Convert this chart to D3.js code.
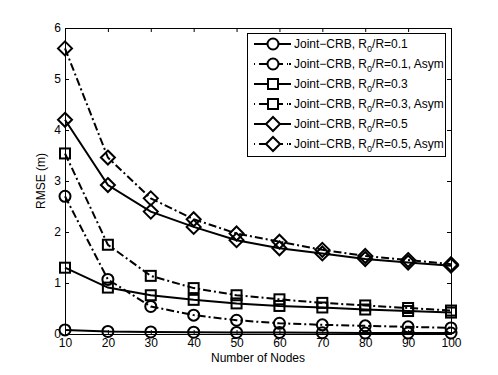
<!doctype html>
<html>
<head>
<script src="https://cdn.jsdelivr.net/npm/d3@7"></script>
<style>
body { margin: 0; background: #fff; }
text { font-family: "Liberation Sans", Arial, sans-serif; font-size: 12px; }
</style>
</head>
<body>
<div id="chart"></div>
<script>
var nodes = [10, 20, 30, 40, 50, 60, 70, 80, 90, 100];
var crb01 = [0.08, 0.05, 0.04, 0.035, 0.03, 0.03, 0.025, 0.02, 0.02, 0.02];
var crb01Asym = [2.7, 1.07, 0.54, 0.37, 0.27, 0.21, 0.18, 0.16, 0.14, 0.12];
var crb03 = [1.3, 0.91, 0.76, 0.67, 0.6, 0.55, 0.52, 0.48, 0.45, 0.42];
var crb03Asym = [3.54, 1.75, 1.14, 0.9, 0.76, 0.68, 0.61, 0.56, 0.51, 0.46];
var crb05 = [4.2, 2.92, 2.4, 2.1, 1.84, 1.68, 1.58, 1.47, 1.4, 1.34];
var crb05Asym = [5.6, 3.46, 2.66, 2.25, 1.97, 1.81, 1.65, 1.53, 1.45, 1.37];
var yTicks = [0, 1, 2, 3, 4, 5, 6];

var series = [
  {name: "0.1", asym: false, marker: "circle", values: crb01},
  {name: "0.1", asym: true, marker: "circle", values: crb01Asym},
  {name: "0.3", asym: false, marker: "square", values: crb03},
  {name: "0.3", asym: true, marker: "square", values: crb03Asym},
  {name: "0.5", asym: false, marker: "diamond", values: crb05},
  {name: "0.5", asym: true, marker: "diamond", values: crb05Asym}
];

var W = 498, H = 375;
var pL = 65, pR = 451, pT = 28, pB = 334;

var svg = d3.select("#chart").append("svg").attr("width", W).attr("height", H);

var x = d3.scaleLinear().domain([10, 100]).range([pL, pR]);
var y = d3.scaleLinear().domain([0, 6]).range([pB, pT]);

// axes box
var ax = svg.append("g");
ax.append("g").attr("transform", "translate(0," + pB + ")")
  .call(d3.axisBottom(x).tickValues(nodes).tickSize(-4).tickPadding(4).tickFormat(d3.format("d")));
ax.append("g").attr("transform", "translate(0," + pT + ")")
  .call(d3.axisTop(x).tickValues(nodes).tickSize(-4).tickFormat(""));
ax.append("g").attr("transform", "translate(" + pL + ",0)")
  .call(d3.axisLeft(y).tickValues(yTicks).tickSize(-4).tickPadding(4).tickFormat(d3.format("d")));
ax.append("g").attr("transform", "translate(" + pR + ",0)")
  .call(d3.axisRight(y).tickValues(yTicks).tickSize(-4).tickFormat(""));
ax.selectAll(".domain").attr("stroke", "#000");
ax.selectAll(".tick line").attr("stroke", "#000");
ax.selectAll(".tick text").attr("fill", "#000").style("font-size", "12px")
  .style("font-family", "Liberation Sans, Arial, sans-serif");

svg.append("text").attr("x", (pL + pR) / 2).attr("y", 362)
  .attr("text-anchor", "middle").text("Number of Nodes");
svg.append("text").attr("transform", "translate(45," + ((pT + pB) / 2) + ") rotate(-90)")
  .attr("text-anchor", "middle").text("RMSE (m)");

var dashDot = "8,3,2,3";

function drawMarker(g, type, cx, cy, fill) {
  if (type === "circle") {
    g.append("circle").attr("cx", cx).attr("cy", cy).attr("r", 5.5)
      .attr("fill", fill).attr("stroke", "#000").attr("stroke-width", 2);
  } else if (type === "square") {
    g.append("rect").attr("x", cx - 5).attr("y", cy - 5).attr("width", 10).attr("height", 10)
      .attr("fill", fill).attr("stroke", "#000").attr("stroke-width", 2);
  } else {
    var s = 7;
    g.append("path").attr("d", "M" + cx + "," + (cy - s) + "L" + (cx + s) + "," + cy +
      "L" + cx + "," + (cy + s) + "L" + (cx - s) + "," + cy + "Z")
      .attr("fill", fill).attr("stroke", "#000").attr("stroke-width", 2);
  }
}

var line = d3.line().x(function(d, i) { return x(nodes[i]); }).y(function(d) { return y(d); });
var plot = svg.append("g");
series.forEach(function(s) {
  plot.append("path").attr("d", line(s.values)).attr("fill", "none")
    .attr("stroke", "#000").attr("stroke-width", 2)
    .attr("stroke-dasharray", s.asym ? dashDot : null);
  s.values.forEach(function(v, i) {
    drawMarker(plot, s.marker, x(nodes[i]), y(v), "none");
  });
});

// legend
var lg = svg.append("g");
lg.append("rect").attr("x", 247.5).attr("y", 33.5).attr("width", 198).attr("height", 123)
  .attr("fill", "#fff").attr("stroke", "#000").attr("stroke-width", 1);
series.forEach(function(s, i) {
  var ly = 44 + i * 20;
  lg.append("line").attr("x1", 254).attr("x2", 291).attr("y1", ly).attr("y2", ly)
    .attr("stroke", "#000").attr("stroke-width", 2)
    .attr("stroke-dasharray", s.asym ? "1,4,24,4,1" : null);
  drawMarker(lg, s.marker, 273, ly, "#fff");
  var t = lg.append("text").attr("x", 294).attr("y", ly + 4);
  t.append("tspan").text("Joint\u2212CRB, R");
  t.append("tspan").attr("dy", 4).style("font-size", "9px").text("0");
  t.append("tspan").attr("dy", -4).text("/R=" + s.name + (s.asym ? ", Asym" : ""));
});
</script>
</body>
</html>
